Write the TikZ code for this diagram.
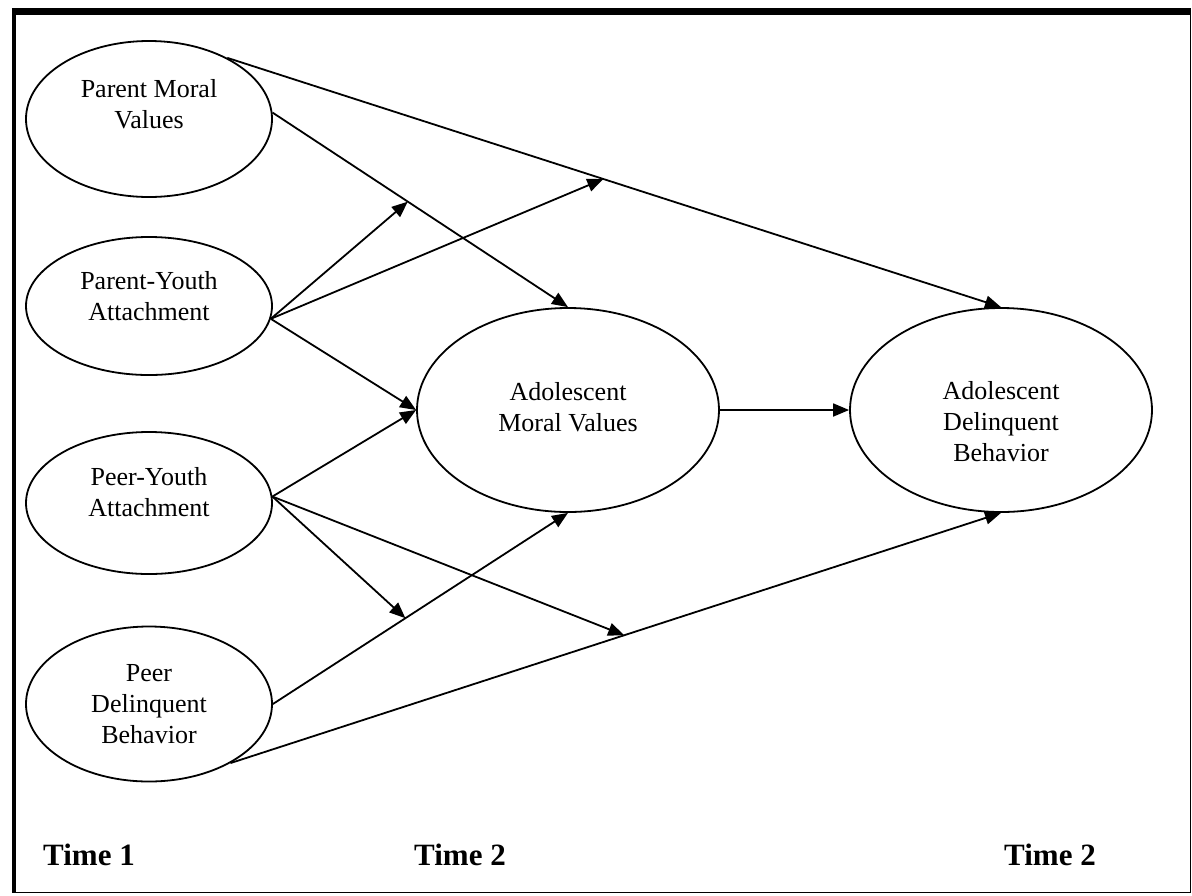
\documentclass[tikz,border=0pt]{standalone}
\usepackage{fontspec}
\setmainfont{Liberation Serif}
\usetikzlibrary{shapes.geometric,arrows.meta}
\begin{document}
\begin{tikzpicture}[x=1pt,y=-1pt,
  ell/.style={draw, ellipse, line width=1.8pt, inner sep=0pt},
  lbl/.style={align=center, inner sep=0pt, font=\fontsize{26}{31}\selectfont},
  timelbl/.style={inner sep=0pt, font=\fontsize{31}{37}\selectfont\bfseries},
  arr/.style={line width=1.8pt, -{Triangle[length=16pt,width=13pt]}}]
\useasboundingbox (0,0) rectangle (1192,895);
% frame
\draw[line width=1.5pt] (14,11) rectangle (1190.5,892.5);
\draw[line width=4.5pt] (14,8) -- (14,893.2);
\draw[line width=7pt] (11.8,11.5) -- (1191.2,11.5);
% ellipses
\node[ell, minimum width=246pt, minimum height=156pt] (pmv) at (149,119) {};
\node[ell, minimum width=246pt, minimum height=138pt] (pya) at (149,306) {};
\node[ell, minimum width=246pt, minimum height=142pt] (pey) at (149,503) {};
\node[ell, minimum width=246pt, minimum height=155pt] (pdb) at (149,704) {};
\node[ell, minimum width=302pt, minimum height=204pt] (amv) at (568,410) {};
\node[ell, minimum width=302pt, minimum height=204pt] (adb) at (1001,410) {};
% labels
\node[lbl] (pmvt) at (149,104) {Parent Moral\\Values};
\node[lbl] (pyat) at (149,296) {Parent-Youth\\Attachment};
\node[lbl] (peyt) at (149,492) {Peer-Youth\\Attachment};
\node[lbl] (pdbt) at (149,704) {Peer\\Delinquent\\Behavior};
\node[lbl] (amvt) at (568,407) {Adolescent\\Moral Values};
\node[lbl] (adbt) at (1001,422) {Adolescent\\Delinquent\\Behavior};
\node[timelbl] (t1) at (89,855) {Time 1};
\node[timelbl] (t2a) at (460,855) {Time 2};
\node[timelbl] (t2b) at (1050,855) {Time 2};
% helper points on paths
\path (pmv.38) -- (adb.north) coordinate[pos=0.486] (m1);
\path (pmv.3) -- (amv.north) coordinate[pos=0.458] (m2);
\path (pdb.east) -- (amv.south) coordinate[pos=0.449] (m3);
\path (pdb.-36) -- (adb.south) coordinate[pos=0.511] (m4);
% direct paths
\draw[arr] (pmv.38) -- (adb.north);
\draw[arr] (pmv.3) -- (amv.north);
\draw[arr] (pdb.east) -- (amv.south);
\draw[arr] (pdb.-36) -- (adb.south);
\draw[arr] (amv.east) -- (adb.west);
\draw[arr] (pya.-6) -- (amv.west);
\draw[arr] (pey.3) -- (amv.west);
% moderation paths
\draw[arr] (pya.-6) -- (m2);
\draw[arr] (pya.-6) -- (m1);
\draw[arr] (pey.3) -- (m3);
\draw[arr] (pey.3) -- (m4);
\end{tikzpicture}
\end{document}
